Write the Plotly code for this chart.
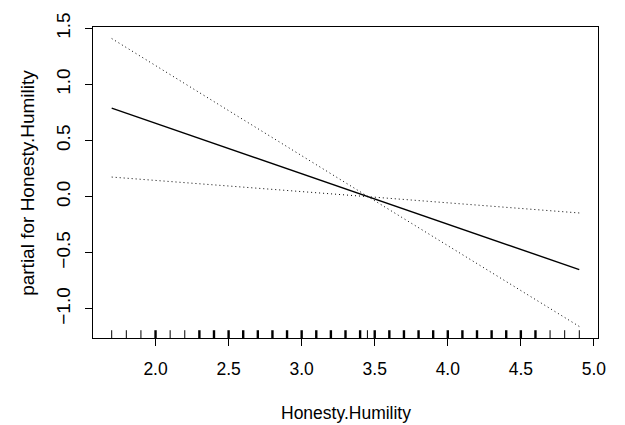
import plotly.graph_objects as go

# Partial-effect term for Honesty.Humility with pointwise confidence band
# (the band pinches to zero width at the predictor mean)
x_pts = [1.7, 3.455, 4.9]
fit = [0.79, 0.0, -0.65]
upper = [1.41, 0.0, -0.145]
lower = [0.175, 0.0, -1.157]

# Observed predictor values (rug) and how many observations share each value
rug_levels = [1.7, 1.8, 1.9, 2.0, 2.1, 2.2, 2.3, 2.4, 2.5, 2.6, 2.7, 2.8, 2.9,
              3.0, 3.1, 3.2, 3.3, 3.4, 3.45, 3.5, 3.6, 3.7, 3.8, 3.9, 4.0,
              4.1, 4.2, 4.3, 4.4, 4.5, 4.6, 4.7, 4.8, 4.9]
rug_counts = [1, 1, 1, 2, 1, 1, 3, 3, 3, 3, 3, 3, 3,
              3, 3, 3, 3, 3, 1, 3, 3, 3, 3, 3, 3,
              3, 3, 3, 3, 3, 3, 1, 1, 1]

x_ticks = [2.0, 2.5, 3.0, 3.5, 4.0, 4.5, 5.0]
y_ticks = [-1.0, -0.5, 0.0, 0.5, 1.0, 1.5]

FONT = "Liberation Sans, Arial, Helvetica, sans-serif"
FS_X = 17.5   # horizontal text
FS_Y = 19     # vertical text

fig = go.Figure()
fig.add_trace(go.Scatter(x=x_pts, y=fit, mode="lines",
                         line=dict(color="black", width=1.4), showlegend=False))
for band in (upper, lower):
    fig.add_trace(go.Scatter(x=x_pts, y=band, mode="lines",
                             line=dict(color="black", width=1, dash="1px,3px"),
                             showlegend=False))

# Rug along the bottom of the panel
for xv, n in zip(rug_levels, rug_counts):
    fig.add_shape(type="line", xref="x", yref="y domain",
                  x0=xv, x1=xv, y0=0, y1=0.025,
                  line=dict(color="black", width=1 if n == 1 else 2.4))

# R-style 4% axis expansion
def expand(lo, hi, f=0.04):
    d = (hi - lo) * f
    return [lo - d, hi + d]

xr = expand(min(x_pts), max(x_pts))
yr = expand(min(lower + fit + upper), max(lower + fit + upper))

axis_common = dict(showgrid=False, zeroline=False, showline=True, mirror=True,
                   linecolor="black", linewidth=1, ticks="outside", ticklen=7,
                   tickwidth=1, tickcolor="black")

fig.update_xaxes(range=xr, tickvals=x_ticks,
                 ticktext=[f"{v:.1f}" for v in x_ticks],
                 tickfont=dict(family=FONT, size=FS_X, color="black"),
                 ticklabelstandoff=8, **axis_common)
fig.update_yaxes(range=yr, tickvals=y_ticks,
                 ticktext=[f"{v:.1f}".replace("-", "\u2212") for v in y_ticks],
                 tickfont=dict(family=FONT, size=FS_Y, color="black"),
                 tickangle=-90, ticklabelstandoff=7, **axis_common)

fig.add_annotation(text="Honesty.Humility", xref="paper", yref="paper",
                   x=0.5, y=-0.241, yanchor="middle", showarrow=False,
                   font=dict(family=FONT, size=FS_X, color="black"))
fig.add_annotation(text="partial for Honesty.Humility", xref="paper", yref="paper",
                   x=-0.13, y=0.5, xanchor="center", yanchor="middle",
                   textangle=-90, showarrow=False,
                   font=dict(family=FONT, size=FS_Y, color="black"))

fig.update_layout(width=625, height=425,
                  margin=dict(l=93, r=27, t=20, b=87),
                  paper_bgcolor="white", plot_bgcolor="white")

fig.write_html("out.html")
